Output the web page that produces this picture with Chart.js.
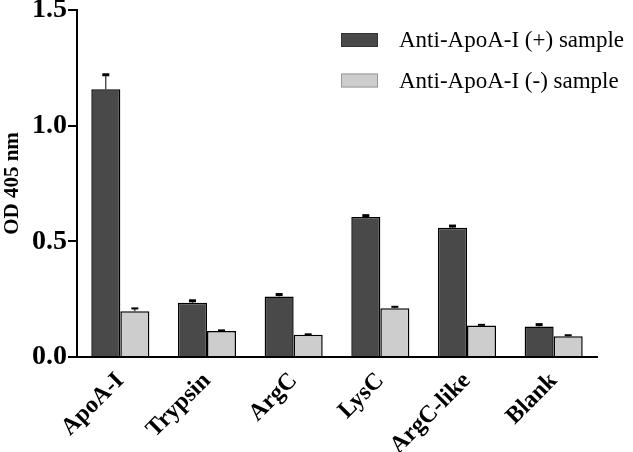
<!DOCTYPE html>
<html>
<head>
<meta charset="utf-8">
<script src="https://cdn.jsdelivr.net/npm/chart.js@4/dist/chart.umd.min.js"></script>
<style>
    html, body { margin: 0; padding: 0; background: #fff; }
    #wrap { width: 633px; height: 452px; position: relative; }
</style>
</head>
<body>
<div id="wrap"><canvas id="chart"></canvas></div>
<script>
const categories = ['ApoA-I', 'Trypsin', 'ArgC', 'LysC', 'ArgC-like', 'Blank'];
const seriesNames = ['Anti-ApoA-I (+) sample', 'Anti-ApoA-I (-) sample'];
const positiveValues = [1.157, 0.235, 0.262, 0.605, 0.559, 0.132];
const positiveErrors = [0.063, 0.008, 0.008, 0.006, 0.007, 0.008];
const negativeValues = [0.198, 0.112, 0.096, 0.211, 0.136, 0.090];
const negativeErrors = [0.012, 0.003, 0.002, 0.006, 0.003, 0.004];
const yTicks = [0, 0.5, 1.0, 1.5];

const serif = "'Liberation Serif', 'Times New Roman', serif";

// upper error bars: thin stem + small black cap
const errorBarPlugin = {
    id: 'errorBars',
    afterDatasetsDraw(chart) {
        const ctx = chart.ctx;
        const yScale = chart.scales.y;
        chart.data.datasets.forEach((ds, i) => {
            const meta = chart.getDatasetMeta(i);
            meta.data.forEach((bar, j) => {
                const top = yScale.getPixelForValue(ds.data[j] + ds.errors[j]);
                ctx.save();
                ctx.strokeStyle = '#000';
                ctx.lineWidth = 1;
                ctx.beginPath();
                ctx.moveTo(bar.x, bar.y);
                ctx.lineTo(bar.x, top);
                ctx.stroke();
                ctx.fillStyle = '#000';
                ctx.fillRect(bar.x - 3.5, top - ds.capSize / 2, 7, ds.capSize);
                ctx.restore();
            });
        });
    }
};

// legend drawn in the top right, over the plot
const legendPlugin = {
    id: 'cornerLegend',
    afterDraw(chart) {
        const ctx = chart.ctx;
        chart.data.datasets.forEach((ds, i) => {
            const y = 40 + i * 40.5;
            ctx.save();
            ctx.fillStyle = ds.backgroundColor;
            ctx.fillRect(341, y - 7, 37, 14);
            ctx.strokeStyle = i === 0 ? '#333' : '#999';
            ctx.lineWidth = 1;
            ctx.strokeRect(341.5, y - 6.5, 36, 13);
            ctx.fillStyle = '#000';
            ctx.font = '23px ' + serif;
            ctx.textBaseline = 'middle';
            ctx.fillText(ds.label, 399, y + 1);
            ctx.restore();
        });
    }
};

new Chart(document.getElementById('chart'), {
    type: 'bar',
    data: {
        labels: categories,
        datasets: [{
            label: seriesNames[0],
            data: positiveValues,
            errors: positiveErrors,
            capSize: 3,
            backgroundColor: '#494949',
            borderColor: '#000',
            borderWidth: 1.5
        }, {
            label: seriesNames[1],
            data: negativeValues,
            errors: negativeErrors,
            capSize: 2,
            backgroundColor: '#cdcdcd',
            borderColor: '#000',
            borderWidth: 1.5
        }]
    },
    options: {
        responsive: true,
        maintainAspectRatio: false,
        animation: false,
        events: [],
        categoryPercentage: 0.67,
        barPercentage: 1.0,
        layout: { padding: { top: 10, right: 36, left: 0, bottom: 0 } },
        plugins: {
            legend: { display: false },
            tooltip: { enabled: false }
        },
        scales: {
            x: {
                grid: { display: false },
                border: { display: true, color: '#000', width: 2 },
                ticks: {
                    color: '#000',
                    minRotation: 45,
                    maxRotation: 45,
                    padding: 2,
                    font: { family: serif, size: 24, weight: 'bold' }
                },
                afterFit(scale) { scale.height = 95; }
            },
            y: {
                min: 0,
                max: 1.5,
                afterBuildTicks(scale) { scale.ticks = yTicks.map(v => ({ value: v })); },
                grid: { drawOnChartArea: false, color: '#000', lineWidth: 2, tickLength: 9 },
                border: { display: true, color: '#000', width: 2 },
                ticks: {
                    color: '#000',
                    padding: 1,
                    callback: v => v.toFixed(1),
                    font: { family: serif, size: 28, weight: 'bold' }
                },
                title: {
                    display: true,
                    text: 'OD 405 nm',
                    color: '#000',
                    padding: 0,
                    font: { family: serif, size: 21, weight: 'bold' }
                },
                afterFit(scale) {
                    scale.width = 77;
                    scale.paddingTop = 0;
                    scale.paddingBottom = 0;
                }
            }
        }
    },
    plugins: [errorBarPlugin, legendPlugin]
});
</script>
</body>
</html>
